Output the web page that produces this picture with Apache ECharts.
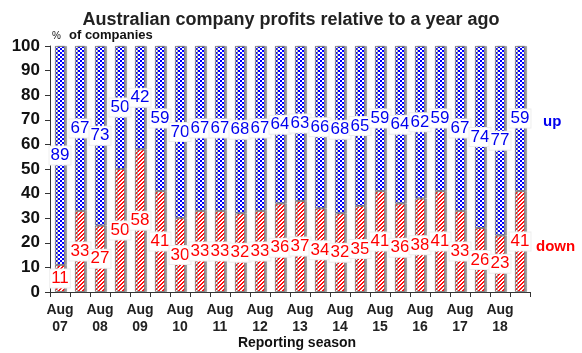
<!DOCTYPE html>
<html><head><meta charset="utf-8">
<script src="https://cdn.jsdelivr.net/npm/echarts@6/dist/echarts.min.js"></script>
<style>html,body{margin:0;padding:0;background:#fff}#c{width:582px;height:353px}</style>
</head><body><div id="c"></div>
<script>
const categories = ['Aug\n07','Feb\n08','Aug\n08','Feb\n09','Aug\n09','Feb\n10','Aug\n10','Feb\n11','Aug\n11','Feb\n12','Aug\n12','Feb\n13','Aug\n13','Feb\n14','Aug\n14','Feb\n15','Aug\n15','Feb\n16','Aug\n16','Feb\n17','Aug\n17','Feb\n18','Aug\n18','Feb\n19'];
const down = [11,33,27,50,58,41,30,33,33,32,33,36,37,34,32,35,41,36,38,41,33,26,23,41];
const up   = [89,67,73,50,42,59,70,67,67,68,67,64,63,66,68,65,59,64,62,59,67,74,77,59];
const yTicks = [0,10,20,30,40,50,60,70,80,90,100];

function makePattern(kind){
  const c = document.createElement('canvas');
  c.width = 4; c.height = 4;
  const g = c.getContext('2d');
  g.fillStyle = '#fff'; g.fillRect(0,0,4,4);
  for (let x=0;x<4;x++) for (let y=0;y<4;y++){
    let on;
    if (kind==='blue') on = ((Math.floor(x/2)+Math.floor(y/2))%2)===0;
    else on = ((x+y)%4) < 2;
    if (on){ g.fillStyle = kind==='blue' ? '#0000ff' : '#ff1010'; g.fillRect(x,y,1,1); }
  }
  if (kind==='blue'){ g.fillStyle='#0000ff'; g.fillRect(1,1,1,1); g.fillRect(3,3,1,1); }
  return {image: c, repeat: 'repeat'};
}

const chart = echarts.init(document.getElementById('c'), null, {renderer:'canvas'});
const labelBase = {show:true, position:'inside', fontFamily:'Liberation Sans, Arial', fontSize:17,
  backgroundColor:'#fff', padding:[1,1,0,1], borderColor:'#eeeeee', borderWidth:1};
const itemBase = {borderColor:'#777', borderWidth:0.8, shadowColor:'#999', shadowOffsetX:2, shadowBlur:0};
chart.setOption({
  animation:false,
  textStyle:{fontFamily:'Liberation Sans, Arial'},
  title:{text:'Australian company profits relative to a year ago', left:'center', top:6,
    textStyle:{fontSize:18, fontWeight:'bold', color:'#222', fontFamily:'Liberation Sans, Arial'}},
  grid:{left:50, right:52, top:46, bottom:61, outerBoundsMode:'none', containLabel:false},
  xAxis:{type:'category', data:categories,
    axisLine:{lineStyle:{color:'#333', width:1}},
    axisTick:{show:true, interval:0, length:5, lineStyle:{color:'#333'}},
    axisLabel:{interval:1, fontSize:14, fontWeight:'bold', color:'#222', lineHeight:17, margin:10},
    name:'Reporting season', nameLocation:'middle', nameGap:44, nameMoveOverlap:false,
    nameTextStyle:{fontSize:14, fontWeight:'bold', color:'#111', padding:[0,0,0,14]}},
  yAxis:{type:'value', min:0, max:100, interval:10,
    axisLine:{show:true, lineStyle:{color:'#333'}},
    axisTick:{show:true, length:5, lineStyle:{color:'#333'}},
    splitLine:{show:false},
    axisLabel:{fontSize:17, color:'#111', margin:10, fontWeight:'bold'}},
  graphic:[
    {type:'text', left:52, top:31, style:{text:'%', fontSize:10, fill:'#111', fontFamily:'Liberation Sans, Arial'}},
    {type:'text', left:69, top:29, style:{text:'of companies', fontSize:13, fontWeight:'bold', fill:'#111', fontFamily:'Liberation Sans, Arial'}},
    {type:'text', left:543, top:114, style:{text:'up', fontSize:15, fontWeight:'bold', fill:'#0000ee', fontFamily:'Liberation Sans, Arial'}},
    {type:'text', left:536, top:239, style:{text:'down', fontSize:15, fontWeight:'bold', fill:'#ff0000', fontFamily:'Liberation Sans, Arial'}}
  ],
  series:[
    {name:'down', type:'bar', stack:'a', data:down, barWidth:10,
      itemStyle:Object.assign({color:makePattern('red')}, itemBase),
      label:Object.assign({color:'#ff0000'}, labelBase)},
    {name:'up', type:'bar', stack:'a', data:up, barWidth:10,
      itemStyle:Object.assign({color:makePattern('blue')}, itemBase),
      label:Object.assign({color:'#0000ee'}, labelBase)}
  ]
});
</script></body></html>
